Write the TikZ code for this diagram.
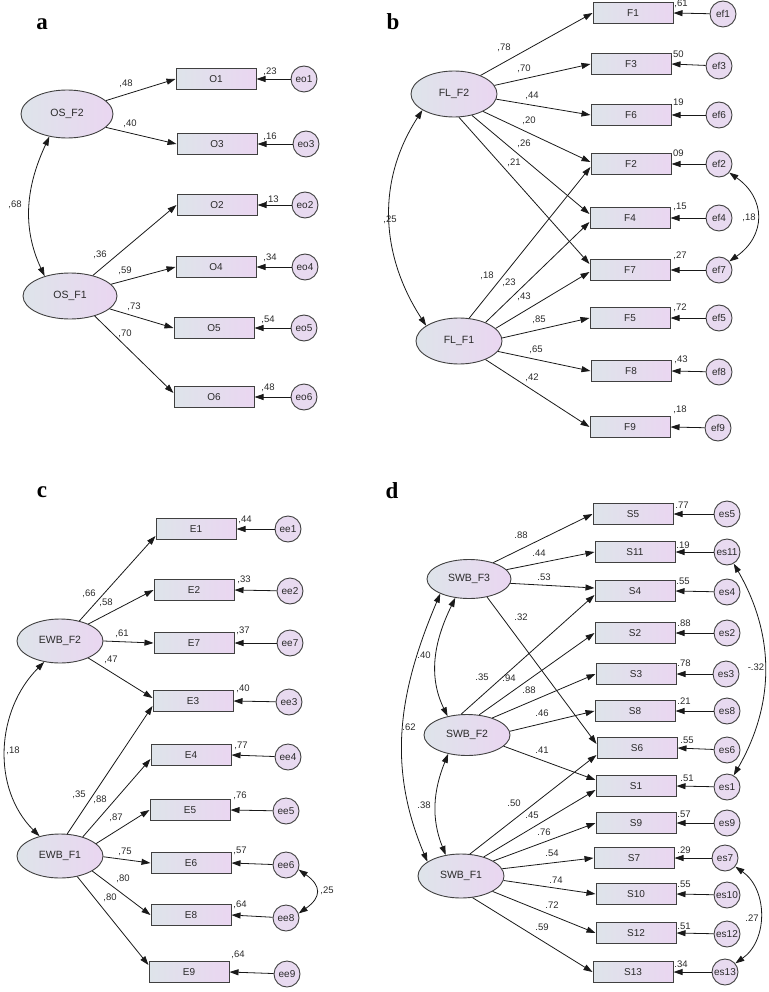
\documentclass[tikz,border=0pt]{standalone}
\usepackage{fontspec}
\setmainfont{Liberation Sans}
\newfontfamily\panelfont{Liberation Serif}
\usetikzlibrary{shapes.geometric,arrows.meta}
\definecolor{shL}{HTML}{DEE4EA}
\definecolor{shR}{HTML}{EAD6F1}
\definecolor{errfill}{HTML}{E8DAF0}
\definecolor{edge}{HTML}{404040}
\definecolor{txt}{HTML}{2A2A2A}
\tikzset{
 obs/.style={rectangle, draw=edge, line width=1pt, left color=shL, right color=shR, minimum width=80pt, minimum height=21pt, inner sep=0pt, font=\fontsize{10}{11}\selectfont, text=txt},
 lat/.style={ellipse, draw=edge, line width=0.9pt, left color=shL, right color=shR, minimum width=86pt, minimum height=44pt, inner sep=0pt, font=\fontsize{10.5}{11}\selectfont, text=txt},
 err/.style={circle, draw=edge, line width=0.9pt, fill=errfill, minimum size=26pt, inner sep=0pt, font=\fontsize{10}{11}\selectfont, text=txt},
 num/.style={font=\fontsize{9.5}{10}\selectfont, text=txt, inner sep=0pt},
 plet/.style={font=\panelfont\bfseries\fontsize{23}{25}\selectfont, inner sep=0pt},
 ld/.style={-{Triangle[length=9pt,width=6pt]}, line width=0.8pt, draw=black!90},
 cv/.style={{Triangle[length=9pt,width=6pt]}-{Triangle[length=9pt,width=6pt]}, line width=0.8pt, draw=black!90},
}
\begin{document}
\begin{tikzpicture}[x=1pt,y=1pt]
\useasboundingbox (0,0) rectangle (768,-992);
%%%%%%%%%%%%%%%% panel a
\node[plet] (la) at (42,-24) {a};
\node[lat, minimum width=92pt, minimum height=48pt] (OSF2) at (67,-114) {OS\_F2};
\node[lat, minimum width=94pt, minimum height=46pt] (OSF1) at (70,-296) {OS\_F1};
\begin{scope}[every node/.append style={minimum width=86pt, minimum height=22pt}]
\node[obs] (O1) at (216,-79) {O1};
\node[obs] (O3) at (217,-144) {O3};
\node[obs] (O2) at (217,-205) {O2};
\node[obs] (O4) at (216,-267) {O4};
\node[obs] (O5) at (214,-328) {O5};
\node[obs] (O6) at (214,-397) {O6};
\end{scope}
\begin{scope}[every node/.append style={minimum size=28pt}]
\node[err] (eo1) at (304,-79) {eo1};
\node[err] (eo3) at (306,-144) {eo3};
\node[err] (eo2) at (305,-205) {eo2};
\node[err] (eo4) at (305,-267) {eo4};
\node[err] (eo5) at (304,-328) {eo5};
\node[err] (eo6) at (304,-397) {eo6};
\end{scope}
\draw[ld] (OSF2.19) -- (O1.west);
\draw[ld] (OSF2.-19) -- (O3.west);
\draw[ld] (OSF1.42) -- (O2.west);
\draw[ld] (OSF1.16) -- (O4.west);
\draw[ld] (OSF1.-18) -- (O5.west);
\draw[ld] (OSF1.-39) -- ([yshift=4pt]O6.west);
\foreach \e/\o in {eo1/O1,eo3/O3,eo2/O2,eo4/O4,eo5/O5,eo6/O6}{\draw[ld] (\e) -- (\o.east);}
\draw[cv] (OSF2.232) to[out=245,in=115] (OSF1.142);
\node[num] (a48) at (126,-84) {,48};
\node[num] (a40) at (130,-124) {,40};
\node[num] (a23) at (270,-72) {,23};
\node[num] (a16) at (270,-137) {,16};
\node[num] (a13) at (272,-200) {,13};
\node[num] (a34) at (270,-258) {,34};
\node[num] (a54) at (268,-320) {,54};
\node[num] (a48b) at (268,-388) {,48};
\node[num] (a36) at (100,-255) {,36};
\node[num] (a59) at (125,-271) {,59};
\node[num] (a73) at (134,-307) {,73};
\node[num] (a70) at (125,-334) {,70};
\node[num] (a68) at (15,-205) {,68};
%%%%%%%%%%%%%%%% panel b
\node[plet] (lb) at (393,-22) {b};
\node[lat, minimum height=46pt] (FLF2) at (454,-94) {FL\_F2};
\node[lat, minimum height=46pt] (FLF1) at (459,-341) {FL\_F1};
\node[obs] (F1) at (633,-13) {F1};
\node[obs] (F3) at (631,-64) {F3};
\node[obs] (F6) at (631,-115) {F6};
\node[obs] (F2) at (631,-164) {F2};
\node[obs] (F4) at (630,-218) {F4};
\node[obs] (F7) at (630,-270) {F7};
\node[obs] (F5) at (630,-318) {F5};
\node[obs] (F8) at (631,-371) {F8};
\node[obs] (F9) at (630,-427) {F9};
\node[err] (ef1) at (723,-14) {ef1};
\node[err] (ef3) at (719,-66) {ef3};
\node[err] (ef6) at (719,-115) {ef6};
\node[err] (ef2) at (719,-164) {ef2};
\node[err] (ef4) at (719,-218) {ef4};
\node[err] (ef7) at (719,-270) {ef7};
\node[err] (ef5) at (719,-318) {ef5};
\node[err] (ef8) at (719,-372) {ef8};
\node[err] (ef9) at (718,-428) {ef9};
\draw[ld] (FLF2.35) -- (F1.west);
\draw[ld] (FLF2.12) -- (F3.west);
\draw[ld] (FLF2.-7) -- (F6.west);
\draw[ld] (FLF2.-31) -- ([yshift=2pt]F2.west);
\draw[ld] (FLF2.-50) -- ([yshift=4pt]F4.west);
\draw[ld] (FLF2.-78) -- ([yshift=6pt]F7.west);
\draw[ld] (FLF1.66) -- ([yshift=-3pt]F2.west);
\draw[ld] (FLF1.35) -- ([yshift=-4pt]F4.west);
\draw[ld] (FLF1.19) -- ([yshift=-2pt]F7.west);
\draw[ld] (FLF1.4) -- (F5.west);
\draw[ld] (FLF1.-15) -- (F8.west);
\draw[ld] (FLF1.-35) -- (F9.west);
\foreach \e/\o in {ef1/F1,ef3/F3,ef6/F6,ef2/F2,ef4/F4,ef7/F7,ef5/F5,ef8/F8,ef9/F9}{\draw[ld] (\e) -- (\o.east);}
\draw[cv] (FLF2.207) to[out=237,in=123] (FLF1.155);
\draw[cv] (ef2.-40) .. controls +(-35:45) and +(35:45) .. (ef7.40);
\node[num] (b61) at (681,-4) {,61};
\node[num] (b50) at (677,-55) {,50};
\node[num] (b19) at (677,-103) {,19};
\node[num] (b09) at (677,-154) {,09};
\node[num] (b15) at (680,-207) {,15};
\node[num] (b27) at (680,-256) {,27};
\node[num] (b72) at (680,-308) {,72};
\node[num] (b43) at (681,-360) {,43};
\node[num] (b18) at (680,-410) {,18};
\node[num] (b78) at (504,-48) {,78};
\node[num] (b70) at (524,-69) {,70};
\node[num] (b44) at (532,-96) {,44};
\node[num] (b20) at (529,-121) {,20};
\node[num] (b26) at (524,-144) {,26};
\node[num] (b21) at (514,-163) {,21};
\node[num] (b18b) at (487,-276) {,18};
\node[num] (b23) at (509,-283) {,23};
\node[num] (b43b) at (524,-297) {,43};
\node[num] (b85) at (539,-320) {,85};
\node[num] (b65) at (536,-350) {,65};
\node[num] (b42) at (532,-378) {,42};
\node[num] (b25) at (390,-220) {,25};
\node[num] (b18c) at (749,-218) {,18};
%%%%%%%%%%%%%%%% panel c
\node[plet] (lc) at (42,-492) {c};
\node[lat] (EWBF2) at (60,-641) {EWB\_F2};
\node[lat] (EWBF1) at (60,-856) {EWB\_F1};
\begin{scope}[every node/.append style={minimum width=79pt}]
\node[obs] (E1) at (196,-529) {E1};
\node[obs] (E2) at (194,-590) {E2};
\node[obs] (E7) at (194,-643) {E7};
\node[obs] (E3) at (193,-701) {E3};
\node[obs] (E4) at (191,-755) {E4};
\node[obs] (E5) at (190,-810) {E5};
\node[obs] (E6) at (191,-863) {E6};
\node[obs] (E8) at (191,-915) {E8};
\node[obs] (E9) at (189,-972) {E9};
\end{scope}
\node[err] (ee1) at (288,-529) {ee1};
\node[err] (ee2) at (290,-591) {ee2};
\node[err] (ee7) at (290,-643) {ee7};
\node[err] (ee3) at (289,-702) {ee3};
\node[err] (ee4) at (288,-757) {ee4};
\node[err] (ee5) at (286,-811) {ee5};
\node[err] (ee6) at (286,-865) {ee6};
\node[err] (ee8) at (286,-918) {ee8};
\node[err] (ee9) at (287,-974) {ee9};
\draw[ld] (EWBF2.46) -- ([yshift=-7pt]E1.west);
\draw[ld] (EWBF2.31) -- (E2.west);
\draw[ld] (EWBF2.0) -- (E7.west);
\draw[ld] (EWBF2.-31) -- ([yshift=3pt]E3.west);
\draw[ld] (EWBF1.72) -- ([yshift=-5pt]E3.west);
\draw[ld] (EWBF1.40) -- ([yshift=-4pt]E4.west);
\draw[ld] (EWBF1.19) -- (E5.west);
\draw[ld] (EWBF1.-1) -- (E6.west);
\draw[ld] (EWBF1.-25) -- (E8.west);
\draw[ld] (EWBF1.-50) -- ([yshift=7pt]E9.west);
\foreach \e/\o in {ee1/E1,ee2/E2,ee7/E7,ee3/E3,ee4/E4,ee5/E5,ee6/E6,ee8/E8,ee9/E9}{\draw[ld] (\e) -- (\o.east);}
\draw[cv] (EWBF2.233) to[out=225,in=135] (EWBF1.136);
\draw[cv] (ee6.-20) .. controls +(-35:28) and +(35:28) .. (ee8.20);
\node[num] (c44) at (245,-520) {,44};
\node[num] (c33) at (244,-580) {,33};
\node[num] (c37) at (243,-631) {,37};
\node[num] (c40) at (243,-689) {,40};
\node[num] (c77) at (241,-746) {,77};
\node[num] (c76) at (240,-796) {,76};
\node[num] (c57) at (240,-851) {,57};
\node[num] (c64) at (240,-905) {,64};
\node[num] (c64b) at (238,-955) {,64};
\node[num] (c66) at (89,-594) {,66};
\node[num] (c58) at (106,-603) {,58};
\node[num] (c61) at (122,-634) {,61};
\node[num] (c47) at (111,-660) {,47};
\node[num] (c35) at (79,-795) {,35};
\node[num] (c88) at (100,-800) {,88};
\node[num] (c87) at (116,-818) {,87};
\node[num] (c75) at (125,-852) {,75};
\node[num] (c80) at (123,-879) {,80};
\node[num] (c80b) at (110,-898) {,80};
\node[num] (c18) at (13,-751) {,18};
\node[num] (c25) at (327,-891) {,25};
%%%%%%%%%%%%%%%% panel d
\node[plet] (ld) at (392,-491) {d};
\node[lat, minimum width=84pt, minimum height=39pt] (SWBF3) at (469,-579) {SWB\_F3};
\node[lat, minimum height=41pt] (SWBF2) at (467,-735) {SWB\_F2};
\node[lat, minimum height=44pt] (SWBF1) at (461,-876) {SWB\_F1};
\node[obs] (S5) at (633,-514) {S5};
\node[obs] (S11) at (635,-552) {S11};
\node[obs] (S4) at (635,-591) {S4};
\node[obs] (S2) at (635,-633) {S2};
\node[obs] (S3) at (636,-674) {S3};
\node[obs] (S8) at (635,-711) {S8};
\node[obs] (S6) at (637,-748) {S6};
\node[obs] (S1) at (636,-786) {S1};
\node[obs] (S9) at (636,-823) {S9};
\node[obs] (S7) at (634,-858) {S7};
\node[obs] (S10) at (636,-894) {S10};
\node[obs] (S12) at (636,-933) {S12};
\node[obs] (S13) at (633,-972) {S13};
\node[err] (es5) at (727,-514) {es5};
\node[err] (es11) at (727,-552) {es11};
\node[err] (es4) at (727,-592) {es4};
\node[err] (es2) at (727,-633) {es2};
\node[err] (es3) at (726,-674) {es3};
\node[err] (es8) at (727,-711) {es8};
\node[err] (es6) at (727,-750) {es6};
\node[err] (es1) at (727,-787) {es1};
\node[err] (es9) at (727,-823) {es9};
\node[err] (es7) at (725,-858) {es7};
\node[err] (es10) at (727,-895) {es10};
\node[err] (es12) at (727,-934) {es12};
\node[err] (es13) at (725,-972) {es13};
\draw[ld] (SWBF3.34) -- (S5.west);
\draw[ld] (SWBF3.14) -- (S11.west);
\draw[ld] (SWBF3.-6) -- ([yshift=3pt]S4.west);
\draw[ld] (SWBF3.-45) -- ([yshift=4pt]S6.west);
\draw[ld] (SWBF2.106) -- ([yshift=-4pt]S4.west);
\draw[ld] (SWBF2.59) -- (S2.west);
\draw[ld] (SWBF2.34) -- (S3.west);
\draw[ld] (SWBF2.5) -- (S8.west);
\draw[ld] (SWBF2.-17) -- ([yshift=6pt]S1.west);
\draw[ld] (SWBF1.68) -- ([yshift=-7pt]S6.west);
\draw[ld] (SWBF1.40) -- ([yshift=-4pt]S1.west);
\draw[ld] (SWBF1.25) -- (S9.west);
\draw[ld] (SWBF1.10) -- (S7.west);
\draw[ld] (SWBF1.-6) -- (S10.west);
\draw[ld] (SWBF1.-26) -- (S12.west);
\draw[ld] (SWBF1.-62) -- (S13.west);
\foreach \e/\o in {es5/S5,es11/S11,es4/S4,es2/S2,es3/S3,es8/S8,es6/S6,es1/S1,es9/S9,es7/S7,es10/S10,es12/S12,es13/S13}{\draw[ld] (\e) -- (\o.east);}
\draw[cv] (SWBF3.234) to[out=244,in=116] (SWBF2.136);
\draw[cv] (SWBF3.207) to[out=247,in=113] (SWBF1.157);
\draw[cv] (SWBF2.225) to[out=248,in=112] (SWBF1.126);
\draw[cv] (es11.-60) to[out=-60,in=60] (es1.60);
\draw[cv] (es7.-40) .. controls +(-35:40) and +(35:40) .. (es13.40);
\node[num] (d77) at (682,-505) {.77};
\node[num] (d19) at (683,-545) {.19};
\node[num] (d55) at (683,-581) {.55};
\node[num] (d88) at (684,-623) {.88};
\node[num] (d78) at (684,-663) {.78};
\node[num] (d21) at (684,-701) {.21};
\node[num] (d55b) at (687,-740) {.55};
\node[num] (d51) at (687,-778) {.51};
\node[num] (d57) at (684,-814) {.57};
\node[num] (d29) at (684,-850) {.29};
\node[num] (d55c) at (684,-884) {.55};
\node[num] (d51b) at (684,-926) {.51};
\node[num] (d34) at (681,-964) {.34};
\node[num] (d88b) at (521,-535) {.88};
\node[num] (d44) at (539,-553) {.44};
\node[num] (d53) at (544,-577) {.53};
\node[num] (d32) at (521,-617) {.32};
\node[num] (d40) at (424,-655) {.40};
\node[num] (d35) at (482,-677) {.35};
\node[num] (d94) at (509,-678) {.94};
\node[num] (d88c) at (529,-690) {.88};
\node[num] (d46) at (542,-713) {.46};
\node[num] (d41) at (542,-750) {.41};
\node[num] (d62) at (409,-727) {.62};
\node[num] (d38) at (424,-805) {.38};
\node[num] (d50) at (514,-803) {.50};
\node[num] (d45) at (532,-815) {.45};
\node[num] (d76) at (544,-832) {.76};
\node[num] (d54) at (552,-853) {.54};
\node[num] (d74) at (556,-880) {.74};
\node[num] (d72) at (552,-905) {.72};
\node[num] (d59) at (542,-927) {.59};
\node[num] (dm32) at (756,-667) {-.32};
\node[num] (d27) at (752,-918) {.27};
\end{tikzpicture}
\end{document}
